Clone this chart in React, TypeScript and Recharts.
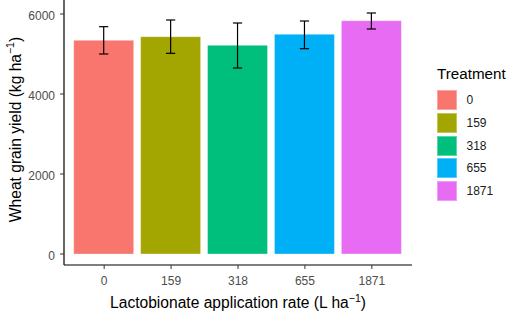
import { BarChart, Bar, Cell, ErrorBar, XAxis, YAxis } from 'recharts';

const treatments = ['0', '159', '318', '655', '1871'];
const grainYield = [5342, 5433, 5217, 5492, 5833];
const errLow = [342, 416, 567, 359, 208];
const errHigh = [341, 417, 558, 333, 192];
const colors = ['#F8766D', '#A3A500', '#00BF7D', '#00B0F6', '#E76BF3'];
const yTicks = [0, 2000, 4000, 6000];

const data = treatments.map((t, i) => ({
  treatment: t,
  value: grainYield[i],
  err: [errLow[i], errHigh[i]],
}));

const font = 'Liberation Sans, Arial, sans-serif';

function YTitle() {
  return (
    <text x={20.5} y={129.5} transform='rotate(-90, 20.5, 129.5)' textAnchor='middle' fontSize={15.6} fontFamily={font} fill='#000'>
      Wheat grain yield (kg ha<tspan dy={-6.5} fontSize={10.5}>−1</tspan><tspan dy={6.5}>)</tspan>
    </text>
  );
}

function XTitle() {
  return (
    <text x={238} y={308} textAnchor='middle' fontSize={15.6} fontFamily={font} fill='#000'>
      Lactobionate application rate (L ha<tspan dy={-6.5} fontSize={10.5}>−1</tspan><tspan dy={6.5}>)</tspan>
    </text>
  );
}

export default function App() {
  return (
    <div style={{ position: 'absolute', left: 0, top: 0, width: 510, height: 316, background: '#fff' }}>
      <BarChart width={510} height={316} data={data} margin={{ top: 0, right: 98, bottom: 0, left: 0 }}>
        <XAxis
          dataKey='treatment'
          height={51}
          padding={{ left: 6.7, right: 6.7 }}
          axisLine={{ stroke: '#000', strokeWidth: 1.2 }}
          tickLine={{ stroke: '#333' }}
          tickSize={4}
          tickMargin={7}
          tick={{ fill: '#4D4D4D', fontSize: 12, fontFamily: font }}
          label={<XTitle />}
        />
        <YAxis
          type='number'
          width={64}
          domain={[-275, 6350]}
          allowDataOverflow
          ticks={yTicks}
          interval={0}
          axisLine={{ stroke: '#000', strokeWidth: 1.2 }}
          tickLine={{ stroke: '#333' }}
          tickSize={4}
          tickMargin={5}
          tick={{ fill: '#4D4D4D', fontSize: 12, fontFamily: font, dy: 1.5 }}
          label={<YTitle />}
        />
        <Bar dataKey='value' barSize={60} isAnimationActive={false}>
          {data.map((d, i) => (
            <Cell key={d.treatment} fill={colors[i]} stroke='rgba(255,255,255,0.35)' strokeWidth={1} />
          ))}
          <ErrorBar dataKey='err' width={4.6} stroke='#000' strokeWidth={1.2} isAnimationActive={false} />
        </Bar>
      </BarChart>
      <div style={{ position: 'absolute', left: 437, top: 65, fontFamily: font }}>
        <div style={{ fontSize: 15.2, lineHeight: '18px', height: 24, color: '#000' }}>Treatment</div>
        {treatments.map((t, i) => (
          <div key={t} style={{ display: 'flex', alignItems: 'center', height: 22.7 }}>
            <div style={{ width: 20, height: 20, background: colors[i], boxSizing: 'border-box', border: '1px solid rgba(255,255,255,0.35)' }} />
            <span style={{ marginLeft: 9.5, fontSize: 12, color: '#1A1A1A' }}>{t}</span>
          </div>
        ))}
      </div>
    </div>
  );
}
